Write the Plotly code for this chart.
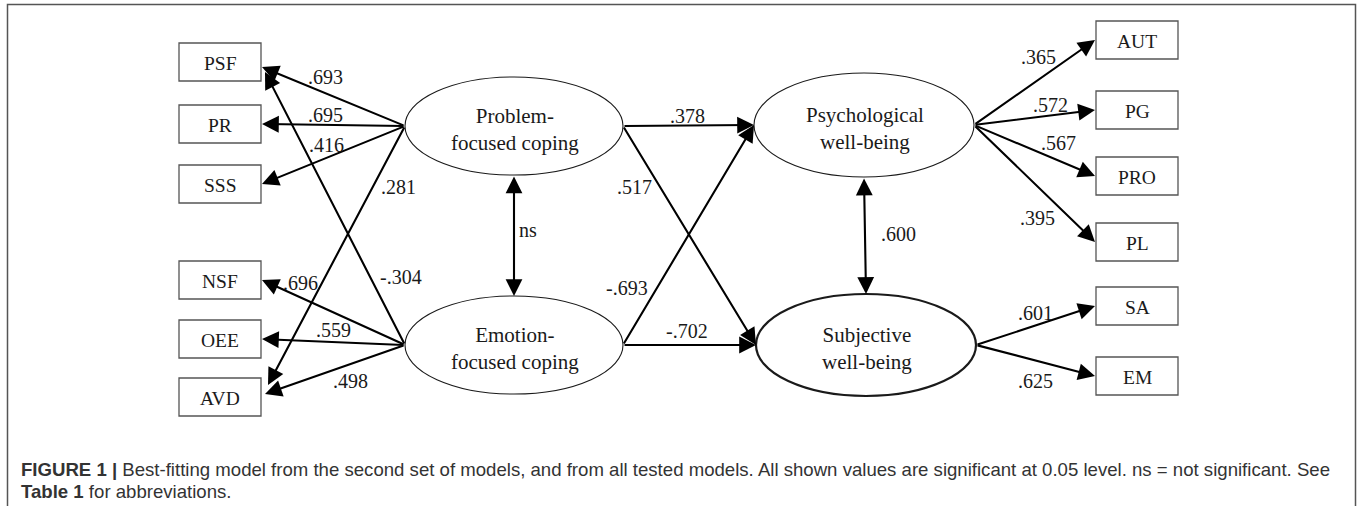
import plotly.graph_objects as go

# ---------------- data ----------------
left_indicators = ["PSF", "PR", "SSS", "NSF", "OEE", "AVD"]
right_indicators = ["AUT", "PG", "PRO", "PL", "SA", "EM"]
latent_ids = ["PFC", "EFC", "PWB", "SWB"]
latent_labels = ["Problem-<br>focused coping", "Emotion-<br>focused coping",
                 "Psychological<br>well-being", "Subjective<br>well-being"]

load_src = ["PFC", "PFC", "PFC", "PFC", "EFC", "EFC", "EFC", "EFC",
            "PWB", "PWB", "PWB", "PWB", "SWB", "SWB"]
load_dst = ["PSF", "PR", "SSS", "AVD", "NSF", "OEE", "AVD", "PSF",
            "AUT", "PG", "PRO", "PL", "SA", "EM"]
load_val = [".693", ".695", ".416", ".281", ".696", ".559", ".498", "-.304",
            ".365", ".572", ".567", ".395", ".601", ".625"]

path_src = ["PFC", "PFC", "EFC", "EFC"]
path_dst = ["PWB", "SWB", "PWB", "SWB"]
path_val = [".378", ".517", "-.693", "-.702"]

cov_a = ["PFC", "PWB"]
cov_b = ["EFC", "SWB"]
cov_val = ["ns", ".600"]

caption_1 = ("<b>FIGURE 1 |</b> Best-fitting model from the second set of models, and from all tested "
             "models. All shown values are significant at 0.05 level. ns = not significant. See")
caption_2 = "<b>Table 1</b> for abbreviations."

# ---------------- layout (geometry) ----------------
box_y = {"PSF": 62, "PR": 124, "SSS": 184, "NSF": 280, "OEE": 339, "AVD": 397,
         "AUT": 40, "PG": 110, "PRO": 176, "PL": 242, "SA": 306, "EM": 376}
left_x = (179, 261)
right_x = (1096, 1178)
box_h = 38
lat_geo = {"PFC": (514, 126, 109, 49), "EFC": (514, 345, 109, 49),
           "PWB": (864, 125, 110, 52), "SWB": (866, 345, 110, 51)}
port_off = {("EFC", "PSF"): (4, 10), ("PFC", "PSF"): (1, 5),
            ("PFC", "AVD"): (7, -12), ("EFC", "AVD"): (4, -3)}
load_lbl = {".693": (325, 77), ".695": (325, 115), ".416": (326, 145), ".281": (398, 187),
            ".696": (300, 283), ".559": (333, 330), ".498": (350, 381), "-.304": (401, 277),
            ".365": (1038, 57), ".572": (1050, 105), ".567": (1058, 143), ".395": (1037, 218),
            ".601": (1035, 313), ".625": (1035, 381)}
path_lbl = {".378": (687, 116), ".517": (634, 187), "-.693": (627, 288), "-.702": (687, 331)}
cov_lbl = {"ns": (528, 230), ".600": (898, 234)}

SERIF = "Liberation Serif, Times New Roman, serif"
INK = "#1a1a1a"

fig = go.Figure()
fig.add_trace(go.Scatter(x=[20, 1300], y=[20, 480], mode="markers",
                         marker=dict(opacity=0), hoverinfo="skip", showlegend=False))

shapes = []
# outer frame (open at bottom)
shapes.append(dict(type="path", path="M 7.5,520 L 7.5,4.5 L 1355.5,4.5 L 1355.5,520",
                   line=dict(color="#555555", width=1.5), xref="x", yref="y"))

# indicator boxes
for name in left_indicators + right_indicators:
    x0, x1 = left_x if name in left_indicators else right_x
    cy = box_y[name]
    shapes.append(dict(type="rect", x0=x0, x1=x1, y0=cy - box_h / 2, y1=cy + box_h / 2,
                       line=dict(color="#555555", width=1.3), fillcolor="white",
                       xref="x", yref="y", layer="below"))
    fig.add_annotation(x=(x0 + x1) / 2, y=cy + 1, text=name, showarrow=False,
                       font=dict(family=SERIF, size=19.5, color=INK), xref="x", yref="y")

# latent ellipses
for lid, lab in zip(latent_ids, latent_labels):
    cx, cy, rx, ry = lat_geo[lid]
    w = 2.2 if lid == "SWB" else 1.1
    shapes.append(dict(type="circle", x0=cx - rx, x1=cx + rx, y0=cy - ry, y1=cy + ry,
                       line=dict(color=INK, width=w), fillcolor="white",
                       xref="x", yref="y", layer="below"))
    fig.add_annotation(x=cx + 1, y=cy + 3, text=lab, showarrow=False,
                       font=dict(family=SERIF, size=21, color=INK), xref="x", yref="y")


def arrow(tip, tail, both=False):
    fig.add_annotation(x=tip[0], y=tip[1], ax=tail[0], ay=tail[1],
                       xref="x", yref="y", axref="x", ayref="y",
                       text="", showarrow=True, arrowhead=2, startarrowhead=2,
                       arrowsize=1.6, startarrowsize=1.6, arrowwidth=2.1,
                       arrowcolor="#000000",
                       arrowside="end+start" if both else "end")


def label(txt, pos, size=20):
    fig.add_annotation(x=pos[0], y=pos[1], text=txt, showarrow=False,
                       font=dict(family=SERIF, size=size, color=INK), xref="x", yref="y")


# measurement loadings
for s, d, v in zip(load_src, load_dst, load_val):
    cx, cy, rx, ry = lat_geo[s]
    dx, dy = port_off.get((s, d), (1, 0))
    if d in left_indicators:
        tail = (cx - rx, cy)
        tip = (left_x[1] + dx, box_y[d] + dy)
    else:
        tail = (cx + rx, cy)
        tip = (right_x[0] - 2 + dx, box_y[d] + dy)
    arrow(tip, tail)
    label(v, load_lbl[v])

# structural paths
for s, d, v in zip(path_src, path_dst, path_val):
    scx, scy, srx, sry = lat_geo[s]
    dcx, dcy, drx, dry = lat_geo[d]
    arrow((dcx - drx, dcy), (scx + srx, scy))
    label(v, path_lbl[v])

# covariances
for a, b, v in zip(cov_a, cov_b, cov_val):
    acx, acy, arx, ary = lat_geo[a]
    bcx, bcy, brx, bry = lat_geo[b]
    arrow((bcx, bcy - bry), (acx, acy + ary), both=True)
    label(v, cov_lbl[v])

# caption
CAP = "Liberation Sans, Arial, sans-serif"
fig.add_annotation(x=19, y=469, text=caption_1, showarrow=False, xanchor="left",
                   font=dict(family=CAP, size=18.6, color="#333333"), xref="x", yref="y")
fig.add_annotation(x=19, y=491, text=caption_2, showarrow=False, xanchor="left",
                   font=dict(family=CAP, size=18.6, color="#333333"), xref="x", yref="y")

W, H = 1357, 506
fig.update_layout(
    width=W, height=H, margin=dict(l=0, r=0, t=0, b=0),
    paper_bgcolor="white", plot_bgcolor="white", shapes=shapes,
    xaxis=dict(range=[0, W], visible=False, fixedrange=True),
    yaxis=dict(range=[H, 0], visible=False, fixedrange=True),
    showlegend=False,
)
fig.write_html("out.html", config={"displayModeBar": False},
               post_script="document.body.style.margin='0px';document.body.style.overflow='hidden';")
